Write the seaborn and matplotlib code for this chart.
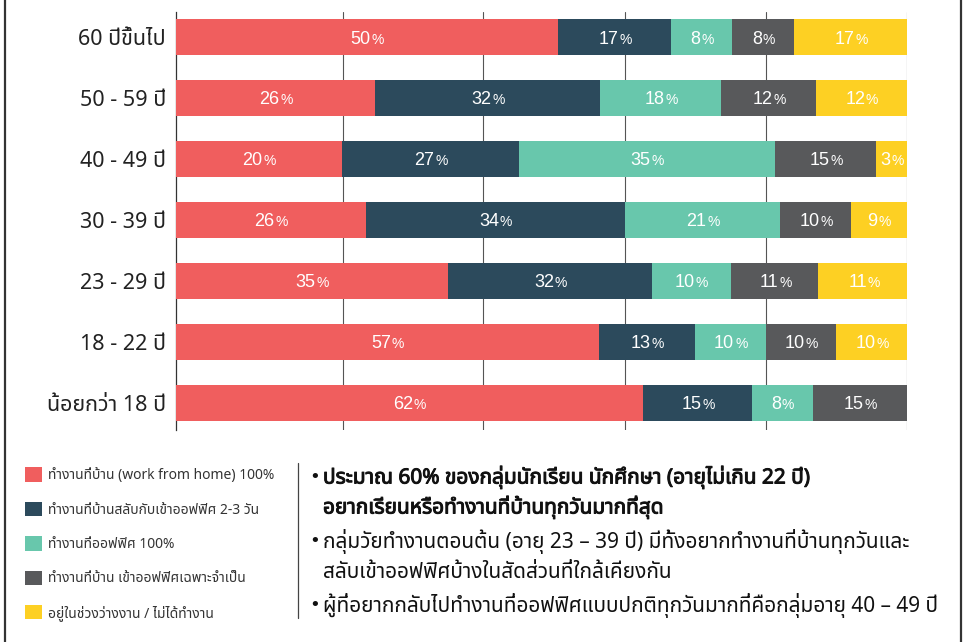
import matplotlib
matplotlib.use("Agg")
import matplotlib.pyplot as plt
import matplotlib.patheffects as pe
import pandas as pd
import seaborn as sns
from matplotlib import font_manager
from matplotlib.ft2font import FT2Font
from matplotlib.lines import Line2D
from matplotlib.patches import Patch

# --- data ---------------------------------------------------------------
age_groups = ['60 ปีขึ้นไป', '50 - 59 ปี', '40 - 49 ปี', '30 - 39 ปี',
              '23 - 29 ปี', '18 - 22 ปี', 'น้อยกว่า 18 ปี']
categories = ['ทำงานที่บ้าน (work from home) 100%',
              'ทำงานที่บ้านสลับกับเข้าออฟฟิศ 2-3 วัน',
              'ทำงานที่ออฟฟิศ 100%',
              'ทำงานที่บ้าน เข้าออฟฟิศเฉพาะจำเป็น',
              'อยู่ในช่วงว่างงาน / ไม่ได้ทำงาน']
colors = ['#F05E5E', '#2C4A5C', '#68C7AC', '#58595B', '#FDD023']

# segment lengths as drawn (share of each row, %)
wfh_full = [52.3, 27.3, 22.8, 26.0, 37.3, 57.9, 63.9]
hybrid = [15.4, 30.7, 24.1, 35.4, 27.8, 13.1, 14.9]
office_full = [8.4, 16.6, 35.0, 21.3, 10.8, 9.7, 8.3]
office_needed = [8.5, 12.9, 13.9, 9.6, 12.0, 9.6, 12.9]
not_working = [15.4, 12.5, 4.2, 7.7, 12.2, 9.7, 0.0]

# numbers printed on the segments
wfh_labels = [50, 26, 20, 26, 35, 57, 62]
hybrid_labels = [17, 32, 27, 34, 32, 13, 15]
office_labels = [8, 18, 35, 21, 10, 10, 8]
needed_labels = [8, 12, 15, 10, 11, 10, 15]
idle_labels = [17, 12, 3, 9, 11, 10, None]

grid_marks = [22.9, 42.1, 61.5, 80.7, 100]

notes = [
    ('ประมาณ 60% ของกลุ่มนักเรียน นักศึกษา (อายุไม่เกิน 22 ปี)', True, True),
    ('อยากเรียนหรือทำงานที่บ้านทุกวันมากที่สุด', True, False),
    ('กลุ่มวัยทำงานตอนต้น (อายุ 23 – 39 ปี) มีทั้งอยากทำงานที่บ้านทุกวันและ', False, True),
    ('สลับเข้าออฟฟิศบ้างในสัดส่วนที่ใกล้เคียงกัน', False, False),
    ('ผู้ที่อยากกลับไปทำงานที่ออฟฟิศแบบปกติทุกวันมากที่คือกลุ่มอายุ 40 – 49 ปี', False, True),
]


def thai_family():
    preferred = ['Noto Sans Thai', 'Noto Sans Thai UI', 'Noto Sans Thai Looped',
                 'Sarabun', 'Loma', 'Garuda', 'Waree', 'Umpush', 'Kinnari',
                 'Norasi', 'Tlwg Typo', 'Laksaman']
    names = {f.name for f in font_manager.fontManager.ttflist}
    for p in preferred:
        if p in names:
            return p
    for f in font_manager.fontManager.ttflist:
        try:
            cmap = FT2Font(f.fname).get_charmap()
        except Exception:
            continue
        if 0x0E01 in cmap and 0x0E35 in cmap:
            return f.name
    return None


sns.set_theme(style="white")
thai = thai_family()
families = ([thai] if thai else []) + ['Liberation Sans', 'DejaVu Sans']
plt.rcParams['font.family'] = families

df = pd.DataFrame({'age': age_groups, 'c0': wfh_full, 'c1': hybrid, 'c2': office_full,
                   'c3': office_needed, 'c4': not_working})
cols = ['c0', 'c1', 'c2', 'c3', 'c4']
cum = df[cols].cumsum(axis=1)
cum['age'] = age_groups

fig = plt.figure(figsize=(9.65, 6.42), dpi=100)
ax = fig.add_axes([175.5 / 965, 1 - 430 / 642, (907 - 175.5) / 965, (430 - 12) / 642])

# stacked bars: draw running totals from the back to the front
for col, color in reversed(list(zip(cols, colors))):
    sns.barplot(data=cum, x=col, y='age', color=color, saturation=1, width=0.59,
                orient='h', errorbar=None, ax=ax, zorder=3, linewidth=0, edgecolor='none')

label_sets = [wfh_labels, hybrid_labels, office_labels, needed_labels, idle_labels]
num_fs, pct_fs = 13, 10
for j, col in enumerate(cols):
    for i in range(len(age_groups)):
        n = label_sets[j][i]
        if n is None:
            continue
        w = df[col][i]
        start = cum[col][i] - w
        center = start + w / 2
        num = str(n)
        num_w = len(num) * 0.556 * num_fs
        pct_w = 0.89 * pct_fs
        split = (num_w - pct_w) / 2
        ax.annotate(num, xy=(center, i), xytext=(split, -4.7), textcoords='offset points',
                    ha='right', va='baseline', fontsize=num_fs, color='white', zorder=5,
                    family=['Liberation Sans'])
        ax.annotate('%', xy=(center, i), xytext=(split + 0.6, -4.7), textcoords='offset points',
                    ha='left', va='baseline', fontsize=pct_fs, color='white', zorder=5,
                    family=['Liberation Sans'])

ax.set_xlim(0, 100)
ax.set_ylim(6.45, -0.41)
ax.set_xticks(grid_marks)
ax.set_xticklabels([])
ax.tick_params(axis='x', length=0)
ax.tick_params(axis='y', length=0, pad=7, labelsize=15.5, labelcolor='#222222')
ax.grid(axis='x', color='#555555', linewidth=0.8)
ax.set_axisbelow(True)
ax.set_xlabel('')
ax.set_ylabel('')
for side in ['top', 'right', 'bottom']:
    ax.spines[side].set_visible(False)
ax.spines['left'].set_color('#333333')
ax.spines['left'].set_linewidth(0.9)

# legend
handles = [Patch(facecolor=c, edgecolor='none') for c in colors]
fig.legend(handles, categories, loc='upper left', bbox_to_anchor=(25 / 965, 1 - 467.5 / 642),
           frameon=False, fontsize=10, borderpad=0, borderaxespad=0,
           handlelength=1.22, handleheight=1.22, handletextpad=0.45,
           labelspacing=1.33, labelcolor='#333333')

# notes on the right
ys = [477, 507, 541, 572, 605]
bold_fx = [pe.withStroke(linewidth=0.7, foreground='#111111')]
for (text, bold, bullet), y in zip(notes, ys):
    fy = 1 - y / 642
    if bullet:
        fig.text(309 / 965, fy, '•', fontsize=13, va='center', ha='left', color='#111111',
                 family=['DejaVu Sans'])
    t = fig.text(323 / 965, fy, text, fontsize=15, va='center', ha='left', color='#111111')
    if bold:
        t.set_path_effects(bold_fx)

fig.add_artist(Line2D([298 / 965, 298 / 965], [1 - 463 / 642, 1 - 618 / 642],
                      transform=fig.transFigure, color='#444444', linewidth=0.9))
for x in [5, 961]:
    fig.add_artist(Line2D([x / 965, x / 965], [0, 1], transform=fig.transFigure,
                          color='#333333', linewidth=1.6))

fig.savefig('out.png', dpi=100)
